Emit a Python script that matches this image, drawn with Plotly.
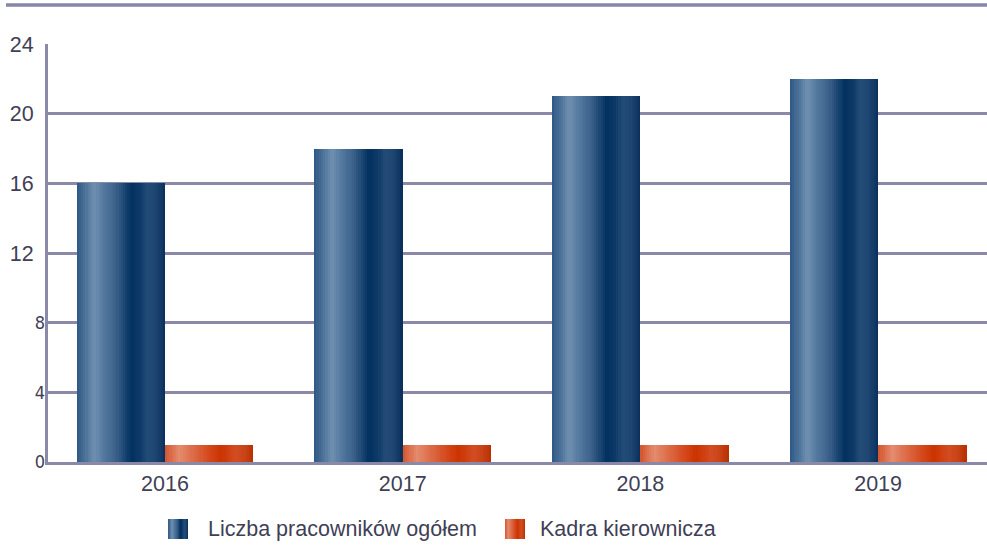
import base64
import plotly.graph_objects as go

# ---- data -------------------------------------------------------------
years = ["2016", "2017", "2018", "2019"]
employees_total = [16, 18, 21, 22]
managers = [1, 1, 1, 1]
series_names = ["Liczba pracowników ogółem", "Kadra kierownicza"]
y_ticks = [0, 4, 8, 12, 16, 20, 24]
y_ticks_large = [12, 16, 20, 24]
y_ticks_small = [0, 4, 8]

# ---- styling ------------------------------------------------------------
GRID = "#8a8aa8"
TEXT = "#3f3f56"
FONT = "Liberation Sans, Arial, sans-serif"
NARROW = "Liberation Sans Narrow, Arial Narrow, DejaVu Sans Condensed, sans-serif"

# horizontal shading stops (fraction across the bar, colour)
BLUE_STOPS = [(0.0, "#2d5783"), (0.10, "#4d7299"), (0.20, "#7090b0"),
              (0.30, "#557aa0"), (0.45, "#3a6089"), (0.62, "#01305f"),
              (0.72, "#0e3a68"), (0.80, "#244c77"), (0.90, "#1d4571"),
              (1.0, "#0a2e5c")]
ORANGE_STOPS = [(0.0, "#d3552d"), (0.16, "#e48b6f"), (0.33, "#dc6a45"),
                (0.50, "#d4481c"), (0.63, "#cc3300"), (0.80, "#d34c22"),
                (0.90, "#c94319"), (1.0, "#b83000")]


def hex_to_rgb(h):
    h = h.lstrip("#")
    return tuple(int(h[i:i + 2], 16) for i in (0, 2, 4))


def shade(stops, t):
    for (t0, c0), (t1, c1) in zip(stops[:-1], stops[1:]):
        if t0 <= t <= t1:
            f = 0 if t1 == t0 else (t - t0) / (t1 - t0)
            a, b = hex_to_rgb(c0), hex_to_rgb(c1)
            return "rgb({},{},{})".format(*[round(a[i] + (b[i] - a[i]) * f) for i in range(3)])
    return stops[-1][1]


def gradient_svg(stops):
    st = "".join(f'<stop offset="{t}" stop-color="{c}"/>' for t, c in stops)
    svg = ('<svg xmlns="http://www.w3.org/2000/svg" width="20" height="20">'
           f'<defs><linearGradient id="g" x1="0" y1="0" x2="1" y2="0">{st}</linearGradient></defs>'
           '<rect width="20" height="20" fill="url(#g)"/></svg>')
    return "data:image/svg+xml;base64," + base64.b64encode(svg.encode()).decode()


BAR_W = 0.372
SLICES = 40

fig = go.Figure()


def add_shaded_bars(values, start, stops):
    step = BAR_W / SLICES
    end = start + BAR_W
    for i in range(SLICES):
        off = start + i * step
        w = min(step * 1.8, end - off)
        fig.add_trace(go.Bar(
            x=years, y=values, offset=off, width=w,
            marker=dict(color=shade(stops, (i + 0.5) / SLICES), line=dict(width=0)),
            showlegend=False, hoverinfo="skip"))


add_shaded_bars(employees_total, -BAR_W, BLUE_STOPS)
add_shaded_bars(managers, 0.0, ORANGE_STOPS)

# invisible trace so the second (label-only) y axis is laid out
fig.add_trace(go.Scatter(x=years[:1], y=[0], yaxis="y2", mode="markers",
                         marker=dict(opacity=0), showlegend=False, hoverinfo="skip"))

fig.update_layout(
    width=987, height=546, autosize=False,
    margin=dict(l=48, r=0, t=44, b=84, pad=0),
    paper_bgcolor="white", plot_bgcolor="white",
    barmode="overlay", bargap=0,
    showlegend=False,
    xaxis=dict(
        type="category", range=[-0.492, 3.458],
        showgrid=False, zeroline=False,
        showline=True, linecolor=GRID, linewidth=3,
        ticks="", ticklabelstandoff=0,
        tickfont=dict(family=FONT, size=21.5, color=TEXT),
    ),
    # gridlines plus the large upper labels
    yaxis=dict(
        range=[0, 24], tickvals=y_ticks,
        ticktext=[str(v) if v in y_ticks_large else "" for v in y_ticks],
        showgrid=True, gridcolor=GRID, gridwidth=3,
        zeroline=False,
        showline=True, linecolor=GRID, linewidth=3,
        ticks="", ticklabelstandoff=7,
        tickfont=dict(family=FONT, size=21.5, color=TEXT),
    ),
    # the lower labels in a narrow face
    yaxis2=dict(
        range=[0, 24], overlaying="y", side="left", anchor="x",
        tickvals=y_ticks_small, ticktext=[str(v) for v in y_ticks_small],
        showgrid=False, zeroline=False, showline=False,
        ticks="", ticklabelstandoff=2,
        tickfont=dict(family=NARROW, size=18, color=TEXT),
    ),
)

# rule across the top of the chart
fig.add_shape(type="line", xref="paper", yref="paper",
              x0=-42 / 939, x1=1.01, y0=(462 - 5) / 418, y1=(462 - 5) / 418,
              line=dict(color="#a4a4c0", width=4))
fig.add_shape(type="line", xref="paper", yref="paper",
              x0=-42 / 939, x1=1.01, y0=(462 - 5) / 418, y1=(462 - 5) / 418,
              line=dict(color="#8686a6", width=2))

# legend: shaded swatches with labels
legend_items = [(168, 206, BLUE_STOPS, series_names[0]),
                (505, 538, ORANGE_STOPS, series_names[1])]
for sx, tx, stops, name in legend_items:
    fig.add_layout_image(dict(
        source=gradient_svg(stops), xref="paper", yref="paper",
        x=(sx - 48) / 939, y=(462 - 519) / 418,
        sizex=20 / 939, sizey=20 / 418,
        xanchor="left", yanchor="top", sizing="stretch", layer="above"))
    fig.add_annotation(
        text=name, xref="paper", yref="paper",
        x=(tx - 48) / 939, y=(462 - 529) / 418,
        xanchor="left", yanchor="middle", showarrow=False,
        font=dict(family=FONT, size=21.5, color=TEXT))

fig.write_html("out.html")
